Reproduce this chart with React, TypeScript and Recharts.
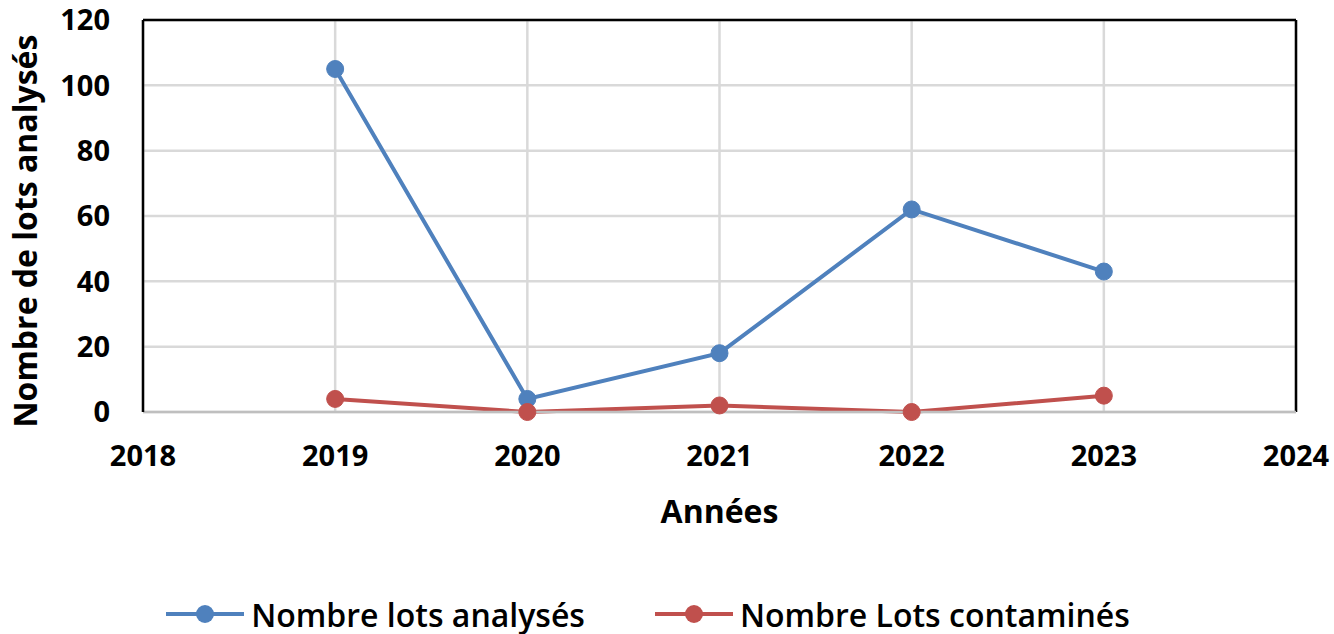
import {
  LineChart,
  Line,
  XAxis,
  YAxis,
  CartesianGrid,
  ReferenceLine,
  Legend,
  Label,
} from "recharts";

const years = [2019, 2020, 2021, 2022, 2023];
const lotsAnalyses = [105, 4, 18, 62, 43];
const lotsContamines = [4, 0, 2, 0, 5];
const xTicks = [2018, 2019, 2020, 2021, 2022, 2023, 2024];
const yTicks = [0, 20, 40, 60, 80, 100, 120];

const BLUE = "#4f81bd";
const RED = "#c0504d";
const FONT = "'Open Sans', sans-serif";

const data = years.map((year, i) => ({
  year,
  analyses: lotsAnalyses[i],
  contamines: lotsContamines[i],
}));

const legendItems = [
  { label: "Nombre lots analysés", color: BLUE },
  { label: "Nombre Lots contaminés", color: RED },
];

const LegendContent = () => (
  <div
    style={{
      display: "flex",
      justifyContent: "center",
      alignItems: "center",
      height: 40,
      gap: 70,
      fontFamily: FONT,
      fontSize: 32,
      fontWeight: 600,
      color: "#000",
    }}
  >
    {legendItems.map((item) => (
      <div key={item.label} style={{ display: "flex", alignItems: "center" }}>
        <svg width={78} height={22} style={{ marginRight: 7 }}>
          <line x1={0} y1={11} x2={78} y2={11} stroke={item.color} strokeWidth={4} />
          <circle cx={39} cy={11} r={9} fill={item.color} />
        </svg>
        <span>{item.label}</span>
      </div>
    ))}
  </div>
);

export default function App() {
  return (
    <div style={{ position: "absolute", left: 0, top: 0, background: "#fff" }}>
      <LineChart
        width={1334}
        height={634}
        data={data}
        margin={{ top: 20, right: 38, left: 0, bottom: 0 }}
      >
        <CartesianGrid stroke="#d9d9d9" strokeWidth={2.5} />
        <XAxis
          dataKey="year"
          type="number"
          domain={[2018, 2024]}
          ticks={xTicks}
          height={182}
          axisLine={{ stroke: "#bfbfbf", strokeWidth: 2.5 }}
          tickLine={false}
          tickMargin={27}
          tick={{ fill: "#000", fontSize: 29, fontWeight: 700, fontFamily: FONT }}
        >
          <Label
            content={({ viewBox }: any) => (
              <text
                x={viewBox.x + viewBox.width / 2}
                y={viewBox.y + 102}
                textAnchor="middle"
                dominantBaseline="middle"
                fontSize={32}
                fontWeight={700}
                fontFamily={FONT}
                fill="#000"
              >
                Années
              </text>
            )}
          />
        </XAxis>
        <YAxis
          type="number"
          domain={[0, 120]}
          ticks={yTicks}
          width={143}
          axisLine={{ stroke: "#000", strokeWidth: 2.5 }}
          tickLine={false}
          tickMargin={27}
          tick={{ fill: "#000", fontSize: 29, fontWeight: 700, fontFamily: FONT }}
        >
          <Label
            content={() => (
              <text
                x={28}
                y={231}
                transform="rotate(-90 28 231)"
                textAnchor="middle"
                dominantBaseline="middle"
                fontSize={32}
                fontWeight={700}
                fontFamily={FONT}
                fill="#000"
              >
                Nombre de lots analysés
              </text>
            )}
          />
        </YAxis>
        <ReferenceLine y={120} stroke="#000" strokeWidth={2.5} />
        <ReferenceLine x={2024} stroke="#000" strokeWidth={2.5} />
        <Legend verticalAlign="bottom" content={<LegendContent />} />
        <Line
          dataKey="analyses"
          name="Nombre lots analysés"
          stroke={BLUE}
          strokeWidth={4}
          dot={{ r: 8.5, fill: BLUE, stroke: BLUE, strokeWidth: 1 }}
          activeDot={false}
          isAnimationActive={false}
        />
        <Line
          dataKey="contamines"
          name="Nombre Lots contaminés"
          stroke={RED}
          strokeWidth={4}
          dot={{ r: 8.5, fill: RED, stroke: RED, strokeWidth: 1 }}
          activeDot={false}
          isAnimationActive={false}
        />
      </LineChart>
    </div>
  );
}
